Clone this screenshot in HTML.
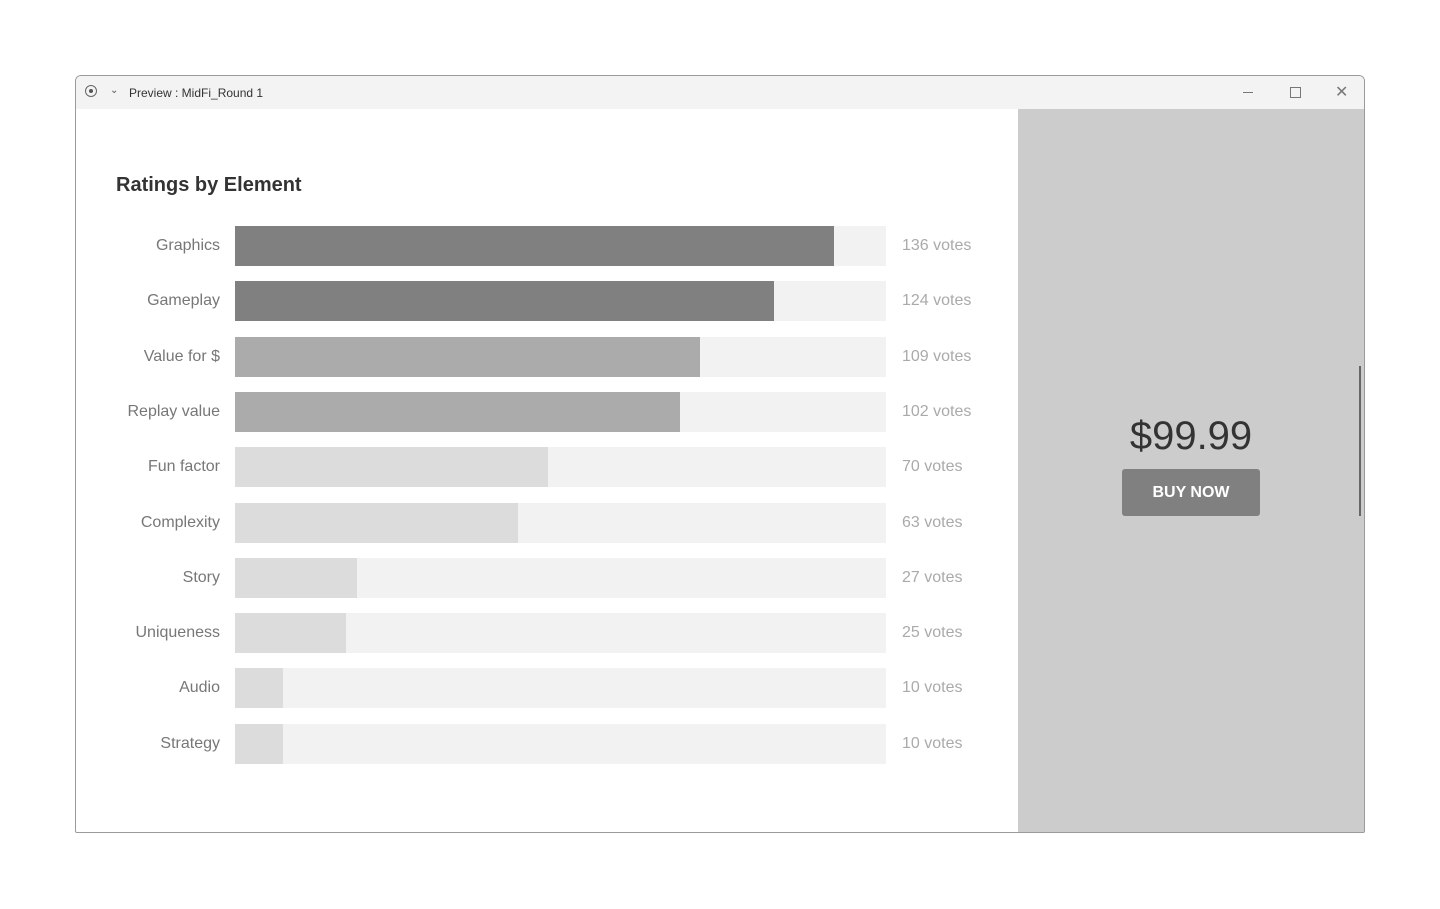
<!DOCTYPE html>
<html><head><style>
body{margin:0;width:1440px;height:909px;background:#fff;position:relative;font-family:"Liberation Sans",sans-serif;overflow:hidden}
.win{position:absolute;left:75px;top:75px;width:1288px;height:756px;border:1px solid #9a9a9a;border-radius:6px 6px 2px 2px;overflow:hidden;background:#fff}
.tb{position:absolute;left:0;top:0;width:100%;height:33px;background:#f3f3f3}
.tb .t{position:absolute;left:53px;top:10px;font-size:12px;color:#333}
.side{position:absolute;left:942px;top:33px;width:346px;height:723px;background:#cccccc}
.a{position:absolute}
.lab{position:absolute;width:200px;text-align:right;left:20px;font-size:16px;color:#777}
.v{position:absolute;left:902px;font-size:16px;color:#aaa}
.tr{position:absolute;left:235px;width:651px;height:40px;background:#f2f2f2}
.f{position:absolute;left:0;top:0;height:40px}
</style></head><body>
<div class="win">
 <div class="tb">
  <div class="a" style="left:9px;top:9px;width:12px;height:12px;border:1px solid #666;border-radius:50%;box-sizing:border-box"></div>
  <div class="a" style="left:13px;top:13px;width:4px;height:4px;background:#555;border-radius:50%"></div>
  <div class="a" style="left:34px;top:9px;font-size:10px;color:#555">&#8964;</div>
  <div class="t">Preview : MidFi_Round 1</div>
  <div class="a" style="left:1167px;top:16px;width:10px;height:1px;background:#777"></div>
  <div class="a" style="left:1214px;top:11px;width:9px;height:9px;border:1px solid #777"></div>
  <div class="a" style="left:1259px;top:6px;font-size:16px;color:#777">&#x2715;</div>
 </div>
 <div class="side">
  <div class="a" style="left:0;width:346px;top:305px;text-align:center;font-size:40px;color:#333">$99.99</div>
  <div class="a" style="left:104px;top:360px;width:138px;height:47px;background:#808080;border-radius:3px;color:#fff;font-weight:bold;font-size:16px;text-align:center;line-height:47px">BUY NOW</div>
  <div class="a" style="left:341px;top:257px;width:2px;height:150px;background:#666"></div>
 </div>
</div>
<div class="a" style="left:116px;top:174px;font-size:20px;font-weight:bold;color:#333">Ratings by Element</div>
<div id="rows"></div>
<script>
var d=[["Graphics",834,"#808080",136],["Gameplay",774,"#808080",124],["Value for $",700,"#ababab",109],["Replay value",680,"#ababab",102],["Fun factor",548,"#dcdcdc",70],["Complexity",518,"#dcdcdc",63],["Story",357,"#dcdcdc",27],["Uniqueness",346,"#dcdcdc",25],["Audio",283,"#dcdcdc",10],["Strategy",283,"#dcdcdc",10]];
var h="";d.forEach(function(r,i){var y=226+i*55.3;
h+='<div class="lab" style="top:'+(y+11)+'px">'+r[0]+'</div><div class="tr" style="top:'+y+'px"><div class="f" style="width:'+(r[1]-235)+'px;background:'+r[2]+'"></div></div><div class="v" style="top:'+(y+11)+'px">'+r[3]+' votes</div>';});
document.getElementById("rows").innerHTML=h;
</script>
</body></html>
